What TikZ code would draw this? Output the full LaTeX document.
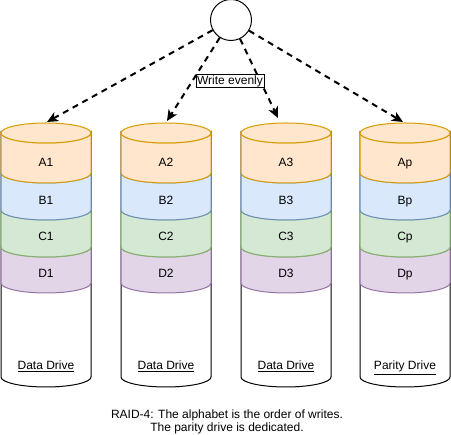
\documentclass[tikz,border=0pt]{standalone}
\usepackage{fontspec}
\setmainfont{Liberation Sans}
\usetikzlibrary{arrows.meta}
\definecolor{fillA}{HTML}{FFE6CC}
\definecolor{lineA}{HTML}{D79B00}
\definecolor{fillB}{HTML}{DAE8FC}
\definecolor{lineB}{HTML}{6C8EBF}
\definecolor{fillC}{HTML}{D5E8D4}
\definecolor{lineC}{HTML}{82B366}
\definecolor{fillD}{HTML}{E1D5E7}
\definecolor{lineD}{HTML}{9673A6}
% x, top, bottom, fill, stroke
\newcommand{\diskpart}[5]{\filldraw[fill=#4, draw=#5] (#1-45,#2) -- (#1-45,#3) arc[start angle=180, end angle=360, x radius=45, y radius=10] -- (#1+45,#2) arc[start angle=0, end angle=-180, x radius=45, y radius=10] -- cycle;}
\newcommand{\disktop}[4]{\filldraw[fill=#3, draw=#4] (#1,#2) ellipse[x radius=45, y radius=10];}
\begin{document}
\begin{tikzpicture}[x=1pt, y=1pt, line width=1pt, font=\fontsize{12}{14}\selectfont,
  flow/.style={line width=2pt, dash pattern=on 6pt off 5pt, -{Stealth[length=11pt, width=10pt, inset=3pt]}},
  lbl/.style={anchor=base, inner sep=0pt}]
\useasboundingbox (0,0) rectangle (451,435);
\node[circle, draw, minimum size=41pt, inner sep=0pt] (src) at (231,415){};
% drive 1
\diskpart{46}{302}{58}{white}{black}
\diskpart{46}{188}{152}{fillD}{lineD}
\diskpart{46}{225}{188}{fillC}{lineC}
\diskpart{46}{262}{225}{fillB}{lineB}
\diskpart{46}{302}{262}{fillA}{lineA}
\disktop{46}{302}{fillA}{lineA}
\node[lbl] (a1) at (46,268){A1};
\node[lbl] (b1) at (46,230){B1};
\node[lbl] (c1) at (46,194){C1};
\node[lbl] (d1) at (46,157){D1};
\node[lbl] (dd1) at (46,65){\underline{Data Drive}};
% drive 2
\diskpart{166}{302}{58}{white}{black}
\diskpart{166}{188}{152}{fillD}{lineD}
\diskpart{166}{225}{188}{fillC}{lineC}
\diskpart{166}{262}{225}{fillB}{lineB}
\diskpart{166}{302}{262}{fillA}{lineA}
\disktop{166}{302}{fillA}{lineA}
\node[lbl] (a2) at (166,268){A2};
\node[lbl] (b2) at (166,230){B2};
\node[lbl] (c2) at (166,194){C2};
\node[lbl] (d2) at (166,157){D2};
\node[lbl] (dd2) at (166,65){\underline{Data Drive}};
% drive 3
\diskpart{286}{302}{58}{white}{black}
\diskpart{286}{188}{152}{fillD}{lineD}
\diskpart{286}{225}{188}{fillC}{lineC}
\diskpart{286}{262}{225}{fillB}{lineB}
\diskpart{286}{302}{262}{fillA}{lineA}
\disktop{286}{302}{fillA}{lineA}
\node[lbl] (a3) at (286,268){A3};
\node[lbl] (b3) at (286,230){B3};
\node[lbl] (c3) at (286,194){C3};
\node[lbl] (d3) at (286,157){D3};
\node[lbl] (dd3) at (286,65){\underline{Data Drive}};
% parity drive
\diskpart{405}{302}{58}{white}{black}
\diskpart{405}{188}{152}{fillD}{lineD}
\diskpart{405}{225}{188}{fillC}{lineC}
\diskpart{405}{262}{225}{fillB}{lineB}
\diskpart{405}{302}{262}{fillA}{lineA}
\disktop{405}{302}{fillA}{lineA}
\node[lbl] (ap) at (405,268){Ap};
\node[lbl] (bp) at (405,230){Bp};
\node[lbl] (cp) at (405,194){Cp};
\node[lbl] (dp) at (405,157){Dp};
\node[lbl] (pd) at (405,65){\underline{Parity Drive}};
% writes
\coordinate (in1) at (47,313);
\coordinate (in2) at (167,314);
\coordinate (in3) at (278,317);
\coordinate (in4) at (403,313);
\draw[flow](src) -- (in1);
\draw[flow](src) -- (in2);
\draw[flow](src) -- (in3);
\draw[flow](src) -- (in4);
\node[draw, fill=white, line width=0.8pt, inner xsep=1pt, inner ysep=1pt] (note) at (230,354){Write evenly};
\node[align=center, inner sep=0pt, font=\fontsize{12}{13}\selectfont] (cap) at (227,13.5){RAID-4: The alphabet is the order of writes.\\The parity drive is dedicated.};
\end{tikzpicture}
\end{document}
